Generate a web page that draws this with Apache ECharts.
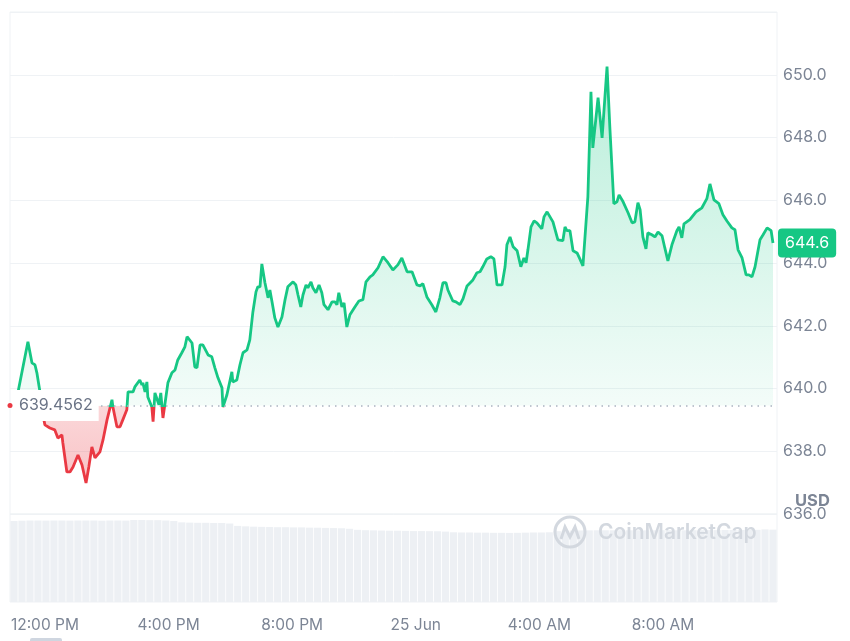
<!DOCTYPE html>
<html><head><meta charset="utf-8">
<script src="https://cdn.jsdelivr.net/npm/echarts@6/dist/echarts.min.js"></script>
<style>html,body{margin:0;padding:0;background:#fff}#c{width:850px;height:641px}</style>
</head><body><div id="c"></div>
<script>
// time in hours from 24 Jun 00:00
const times = [11.13,11.45,11.58,11.68,11.74,11.84,11.90,12.00,12.16,12.32,12.42,12.55,12.58,12.71,12.81,12.91,13.07,13.20,13.33,13.42,13.52,13.62,13.78,13.88,14.01,14.17,14.20,14.33,14.43,14.52,14.65,14.69,14.85,14.91,15.07,15.14,15.17,15.24,15.30,15.33,15.46,15.50,15.56,15.62,15.69,15.75,15.82,15.88,15.98,16.11,16.21,16.30,16.43,16.53,16.60,16.76,16.85,16.92,17.02,17.11,17.28,17.40,17.50,17.60,17.73,17.76,17.89,17.92,18.05,18.08,18.21,18.31,18.41,18.54,18.63,18.73,18.83,18.89,18.96,19.02,19.12,19.22,19.28,19.35,19.44,19.54,19.67,19.77,19.86,20.03,20.12,20.19,20.28,20.35,20.45,20.51,20.61,20.67,20.77,20.87,20.96,21.03,21.16,21.29,21.39,21.45,21.51,21.61,21.68,21.77,21.87,22.03,22.16,22.29,22.39,22.52,22.61,22.78,22.94,23.10,23.26,23.42,23.55,23.72,23.88,24.04,24.14,24.23,24.36,24.52,24.65,24.78,24.88,24.98,25.04,25.20,25.30,25.43,25.53,25.66,25.72,25.85,25.98,26.08,26.17,26.30,26.43,26.53,26.63,26.79,26.89,26.95,27.05,27.15,27.28,27.34,27.40,27.50,27.57,27.63,27.73,27.83,27.92,28.08,28.15,28.25,28.31,28.44,28.50,28.60,28.76,28.83,28.89,28.99,29.09,29.22,29.31,29.41,29.54,29.57,29.67,29.73,29.90,30.03,30.19,30.28,30.41,30.51,30.58,30.71,30.77,30.87,31.00,31.09,31.19,31.26,31.35,31.45,31.51,31.64,31.74,31.84,31.97,32.06,32.16,32.29,32.45,32.52,32.61,32.68,32.87,33.07,33.26,33.42,33.52,33.65,33.81,33.94,34.07,34.23,34.33,34.43,34.56,34.69,34.78,34.88,34.98,35.14,35.24,35.37,35.50,35.56];
const prices = [639.89,641.49,640.82,640.75,640.50,639.89,639.32,638.84,638.74,638.68,638.42,638.52,638.27,637.34,637.34,637.50,637.88,637.56,636.99,637.50,638.14,637.79,637.98,638.36,639.00,639.64,639.41,638.78,638.78,639.00,639.32,639.89,639.89,640.05,640.27,640.11,640.18,639.89,640.21,639.73,639.41,638.94,639.86,639.89,639.48,639.86,639.06,639.48,640.18,640.50,640.59,640.91,641.14,641.33,641.65,641.45,640.69,640.66,641.39,641.39,641.07,641.01,640.66,640.34,640.02,639.41,639.80,639.86,640.53,640.21,640.27,640.75,641.14,641.23,641.55,642.44,643.08,643.24,643.24,643.97,643.37,642.89,643.14,642.76,642.25,641.96,642.28,642.83,643.24,643.40,643.30,642.98,642.60,642.98,643.30,643.21,643.40,643.21,643.05,643.30,643.05,642.67,642.51,642.76,642.76,642.67,643.05,642.60,642.73,641.96,642.35,642.60,642.79,642.83,643.40,643.56,643.62,643.85,644.20,644.01,643.78,643.94,644.16,643.72,643.72,643.30,643.27,643.34,642.92,642.67,642.44,642.89,643.37,643.37,643.14,642.79,642.76,642.67,642.86,643.27,643.24,643.46,643.69,643.72,643.88,644.13,644.20,644.13,643.30,643.30,643.88,644.58,644.83,644.52,644.39,644.36,643.88,644.16,644.01,644.42,645.15,645.34,645.28,645.09,645.47,645.63,645.60,645.31,645.28,644.74,644.71,645.15,645.03,645.03,644.39,644.32,644.13,643.91,645.70,646.11,649.46,647.67,649.27,647.99,650.26,648.34,645.89,645.95,646.17,645.95,645.92,645.60,645.28,645.31,645.92,645.70,644.83,644.45,644.96,644.90,644.83,644.99,644.87,644.48,644.07,644.58,645.03,645.15,644.80,645.25,645.38,645.63,645.76,646.05,646.52,646.01,645.89,645.54,645.34,645.12,645.06,644.42,644.16,643.62,643.62,643.56,643.88,644.74,644.90,645.12,645.03,644.64];
const volumes = [92.0,92.4,92.6,92.6,92.5,92.6,92.6,92.5,92.6,92.6,92.6,92.4,92.6,92.6,92.5,
  93.2,93.2,93.0,93.0,92.6,92.0,
  90.5,90.2,90.0,90.0,89.8,89.8,89.2,
  86.5,86.0,85.6,85.4,85.2,85.0,85.0,84.8,84.8,84.5,84.4,84.2,84.0,83.8,83.2,
  82.0,81.6,81.4,81.2,81.0,81.0,80.8,80.6,80.6,80.5,80.4,80.0,
  79.2,79.0,79.0,78.8,78.8,78.6,78.6,78.5,78.6,78.8,79.0,79.0,79.2,
  80.5,81.0,81.2,81.3,81.4,81.5,81.5,81.5,81.6,81.5,81.5,81.4,81.5,81.6,81.6,81.5,81.5,81.6,81.6,81.7,81.7,81.8,81.8,81.9,82.0,82.0,
  82.5,82.2];
const baseline = 639.4562;
const xTickValues = [12, 16, 20, 24, 28, 32];
const xTickLabels = ['12:00 PM', '4:00 PM', '8:00 PM', '25 Jun', '4:00 AM', '8:00 AM'];
const XMIN = 10.87, XMAX = 35.69;
const YMIN = 636, YMAX = 652, YSTEP = 2;

const GREEN = '#16c784', RED = '#ea3943', TXT = '#7c8595', GRIDC = '#eff2f5';
const FONT = 'Inter, "Noto Sans", sans-serif';

const pMax = Math.max(...prices), pMin = Math.min(...prices);
const f = (pMax - baseline) / (pMax - pMin);

const chart = echarts.init(document.getElementById('c'), null, {renderer: 'canvas'});
chart.setOption({
  animation: false,
  backgroundColor: '#fff',
  textStyle: {fontFamily: FONT},
  grid: [
    {left: 10, right: 73, top: 12, height: 502, show: true, borderColor: GRIDC, borderWidth: 1},
    {left: 10, right: 73, top: 514, height: 88, show: true, borderColor: GRIDC, borderWidth: 1}
  ],
  xAxis: [
    {type: 'value', gridIndex: 0, min: XMIN, max: XMAX,
     axisLine: {show: false}, axisTick: {show: false}, splitLine: {show: false},
     axisLabel: {customValues: xTickValues, margin: 103, color: TXT, fontSize: 15.5, fontFamily: FONT,
       formatter: v => { const i = xTickValues.indexOf(v); return i >= 0 ? xTickLabels[i] : ''; }}},
    {type: 'category', gridIndex: 1, show: false, data: volumes.map((_, i) => i)}
  ],
  yAxis: [
    {type: 'value', gridIndex: 0, position: 'right', min: YMIN, max: YMAX, interval: YSTEP,
     axisLine: {show: false}, axisTick: {show: false},
     splitLine: {lineStyle: {color: GRIDC, width: 1}},
     axisLabel: {margin: 6, color: TXT, fontSize: 16, fontFamily: FONT,
       formatter: v => v >= YMAX ? '' : v.toFixed(1)}},
    {type: 'value', gridIndex: 1, min: 0, max: 100, show: false}
  ],
  series: [
    {
      type: 'line', xAxisIndex: 0, yAxisIndex: 0,
      data: times.map((t, i) => [t, prices[i]]),
      showSymbol: false, smooth: false, z: 3,
      lineStyle: {width: 2.8, color: new echarts.graphic.LinearGradient(0, 0, 0, 1, [
        {offset: 0, color: GREEN}, {offset: f, color: GREEN},
        {offset: f, color: RED}, {offset: 1, color: RED}
      ])},
      itemStyle: {color: GREEN},
      areaStyle: {
        origin: baseline, opacity: 1,
        color: new echarts.graphic.LinearGradient(0, 0, 0, 1, [
          {offset: 0, color: 'rgba(22,199,132,0.30)'},
          {offset: f, color: 'rgba(22,199,132,0.05)'},
          {offset: f, color: 'rgba(234,57,67,0.20)'},
          {offset: 1, color: 'rgba(234,57,67,0.30)'}
        ])
      },
      endLabel: {
        show: true, formatter: p => p.value[1].toFixed(1),
        color: '#fff', backgroundColor: GREEN, borderRadius: 4,
        padding: [7, 7, 6, 7], fontSize: 16, fontFamily: FONT, distance: 5
      },
      markLine: {
        silent: true, symbol: ['none', 'none'], z: 10,
        lineStyle: {color: '#a9b2c0', type: [1.5, 5], width: 1.5},
        label: {show: true, position: 'insideStart', distance: [3, 0],
          formatter: () => String(baseline), backgroundColor: '#fff',
          padding: [8, 6, 7, 6], color: '#6b7486', fontSize: 16, fontFamily: FONT},
        data: [{yAxis: baseline}]
      },
      markPoint: {
        silent: true, symbol: 'circle', symbolSize: 5, z: 11,
        itemStyle: {color: RED}, label: {show: false},
        data: [{coord: [XMIN, baseline]}]
      }
    },
    {
      type: 'bar', xAxisIndex: 1, yAxisIndex: 1, data: volumes,
      barCategoryGap: '10%', itemStyle: {color: '#edf0f4'}, silent: true
    }
  ],
  graphic: [
    {type: 'circle', z: 100, shape: {cx: 570, cy: 532, r: 15}, style: {fill: 'none', stroke: '#d3d8df', lineWidth: 3}},
    {type: 'polyline', z: 100, shape: {points: [[561, 539], [565, 527], [570, 537], [575, 527], [579, 539]]}, style: {fill: 'none', stroke: '#d3d8df', lineWidth: 3}},
    {type: 'text', z: 100, x: 598, y: 533, style: {text: 'CoinMarketCap', font: '600 21px Inter, sans-serif', fill: '#d3d8df', verticalAlign: 'middle'}},
    {type: 'text', z: 100, x: 795, y: 501, style: {text: 'USD', font: 'bold 16.5px Inter, sans-serif', fill: TXT, verticalAlign: 'middle'}},
    {type: 'rect', z: 100, shape: {x: 30, y: 638, width: 32, height: 5, r: 2}, style: {fill: '#cfd6e0'}}
  ]
});
</script></body></html>
